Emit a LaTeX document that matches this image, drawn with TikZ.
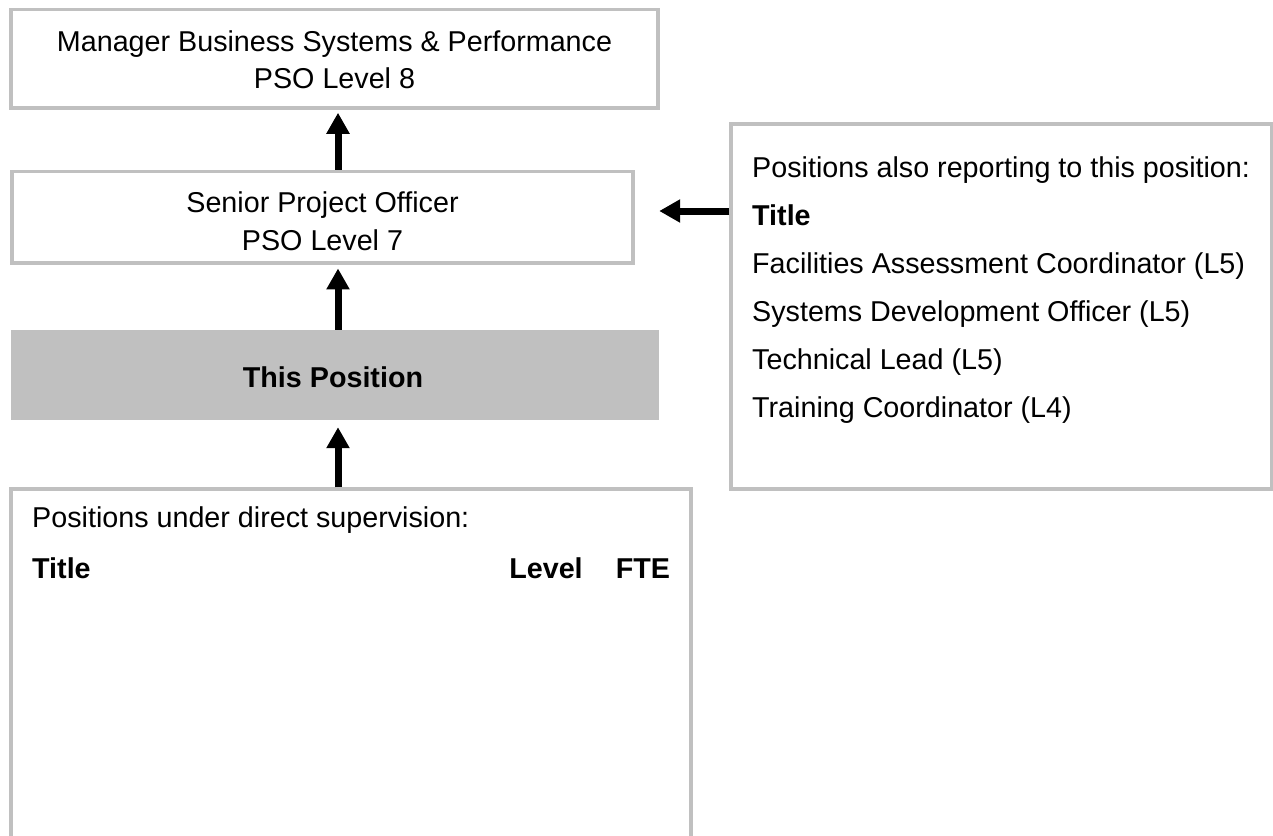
\documentclass[tikz,border=0pt]{standalone}
\usepackage{fontspec}
\setmainfont{Liberation Sans}
\usetikzlibrary{arrows.meta}

\definecolor{boxgray}{RGB}{192,192,192}

\begin{document}
\begin{tikzpicture}[x=1pt,y=-1pt,
    posbox/.style={draw=boxgray,line width=3.5pt,rectangle,inner sep=0pt,fill=white},
    selfbox/.style={fill=boxgray,rectangle,inner sep=0pt},
    txt/.style={inner sep=0pt,font=\fontsize{28.7}{34}\selectfont},
    boldtxt/.style={txt,font=\fontsize{28.7}{34}\selectfont\bfseries},
    reportarrow/.style={line width=7pt,-{Triangle[length=21pt,width=22pt]}}]
\useasboundingbox (0,0) rectangle (1273,835);
\clip (0,0) rectangle (1273,835);

% boxes
\node[posbox,minimum width=647pt,minimum height=98.5pt] (manager) at (334.5,58.75) {};
\node[posbox,minimum width=621pt,minimum height=91.5pt] (senior) at (322.5,217.25) {};
\node[selfbox,minimum width=648pt,minimum height=90pt] (thispos) at (335,375) {};
\node[posbox,minimum width=680pt,minimum height=356pt] (supervised) at (351,667) {};
\node[posbox,minimum width=540.5pt,minimum height=365pt] (reporting) at (1001.25,306.5) {};

% texts
\node[txt,anchor=base] (mgrtitle) at (334.5,51) {Manager Business Systems \& Performance};
\node[txt,anchor=base] (mgrlevel) at (334.5,88) {PSO Level 8};
\node[txt,anchor=base] (sentitle) at (322.5,212) {Senior Project Officer};
\node[txt,anchor=base] (senlevel) at (322.5,250) {PSO Level 7};
\node[boldtxt,anchor=base] (thistext) at (333,387) {This Position};

\node[txt,anchor=base west] (suphead) at (32,527) {Positions under direct supervision:};
\node[boldtxt,anchor=base west] (suptitle) at (32,578) {Title};
\node[boldtxt,anchor=base] (suplevel) at (546,578) {Level};
\node[boldtxt,anchor=base] (supfte) at (643,578) {FTE};

\node[txt,anchor=base west] (rephead) at (752,177) {Positions also reporting to this position:};
\node[boldtxt,anchor=base west] (reptitle) at (752,225) {Title};
\foreach \i/\name in {1/Facilities Assessment Coordinator (L5),
                      2/Systems Development Officer (L5),
                      3/Technical Lead (L5),
                      4/Training Coordinator (L4)}
  \node[txt,anchor=base west] (rep\i) at (752,225+48*\i) {\name};

% arrows
\coordinate (col) at (338,0);
\coordinate (side) at (0,211);
\draw[reportarrow,shorten >=3pt] (senior.north -| col) -- (manager.south -| col);
\draw[reportarrow,shorten >=3.7pt] (thispos.north -| col) -- (senior.south -| col);
\draw[reportarrow,shorten >=7pt] (supervised.north -| col) -- (thispos.south -| col);
\draw[reportarrow] (reporting.west |- side) -- (thispos.east |- side);
\end{tikzpicture}
\end{document}
